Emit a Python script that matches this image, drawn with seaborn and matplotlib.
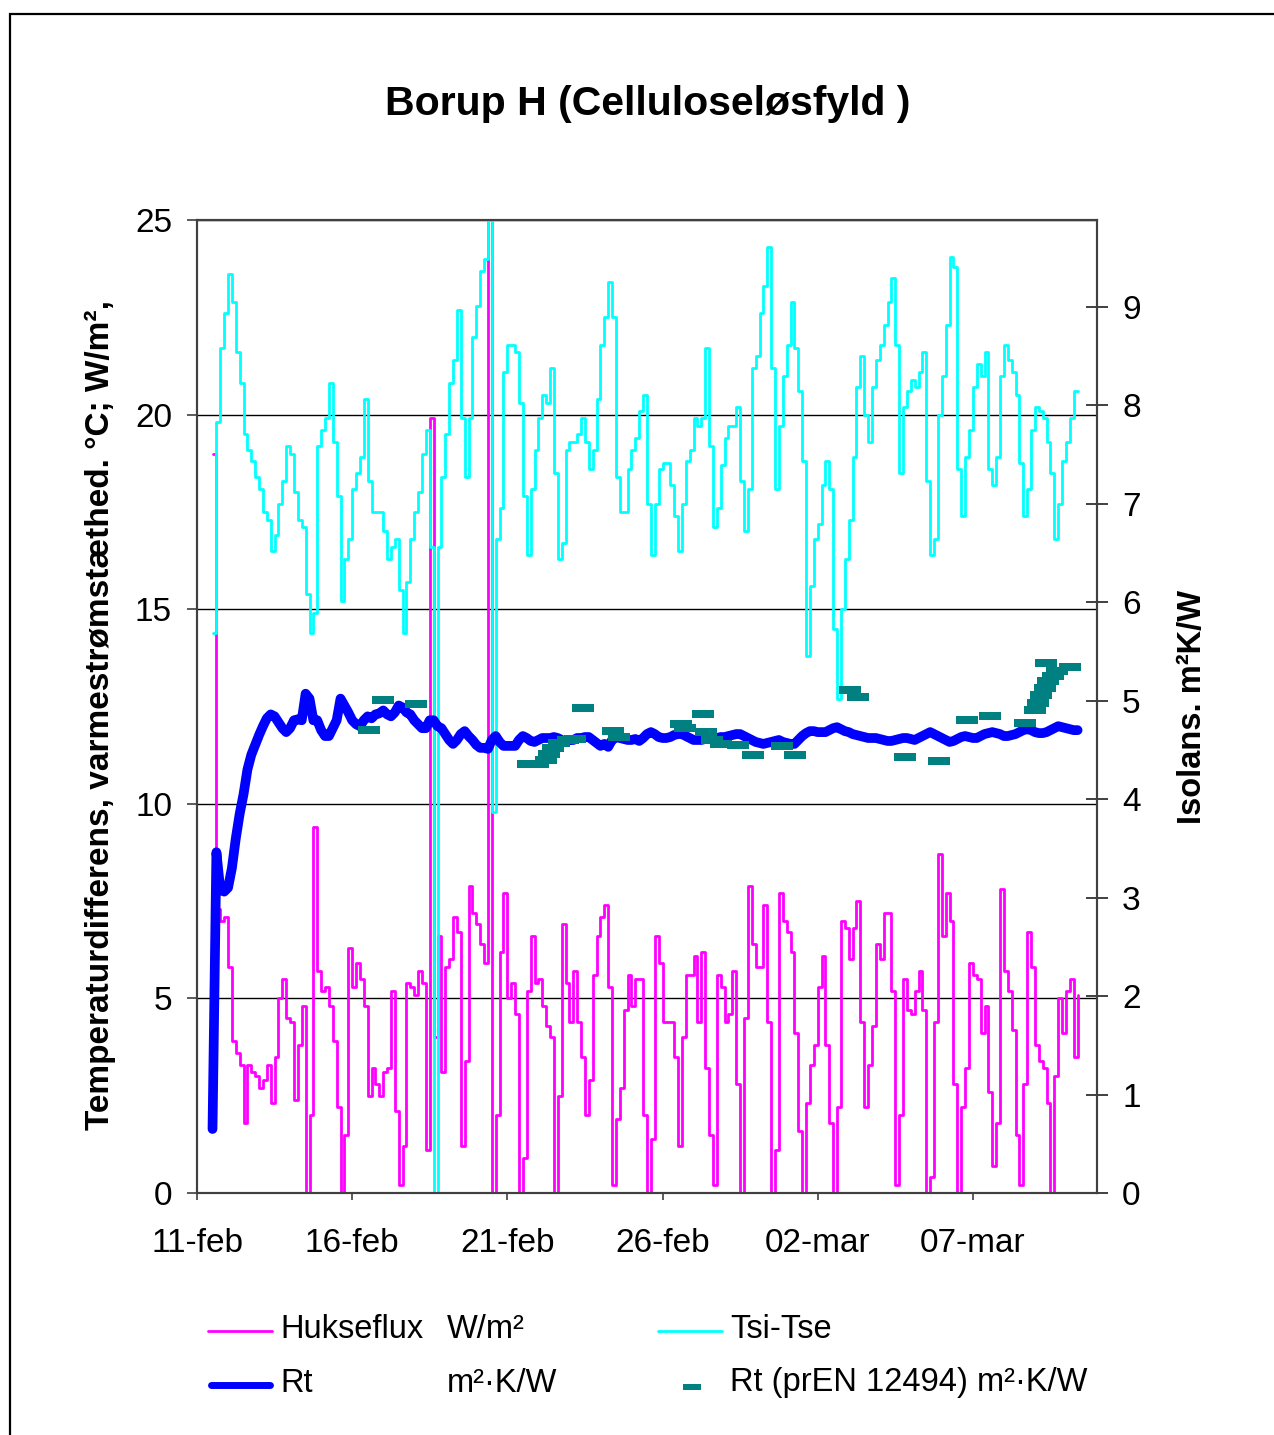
import numpy as np
import pandas as pd
import matplotlib
matplotlib.use("Agg")
import matplotlib.pyplot as plt
import matplotlib.dates as mdates
from matplotlib.lines import Line2D
from matplotlib.patches import Rectangle
from matplotlib.ticker import FixedLocator, FuncFormatter
import seaborn as sns

# ---------------------------------------------------------------------------
# Measurements, 3-hourly from 11 Feb 2004 12:00
# ---------------------------------------------------------------------------
series_start = "2004-02-11 12:00"

# Tsi-Tse, temperature difference (°C)
tsi_tse = [
    14.4, 19.8, 21.7, 22.6, 23.6, 22.9, 21.6, 20.8, 19.5, 19.1,
    18.8, 18.4, 18.1, 17.5, 17.3, 16.5, 16.9, 17.7, 18.3, 19.2,
    19.0, 18.0, 17.3, 17.1, 15.4, 14.4, 14.9, 19.2, 19.6, 19.9,
    20.8, 19.3, 17.9, 15.2, 16.3, 16.8, 18.1, 18.5, 18.9, 20.4,
    18.3, 17.5, 17.5, 17.5, 17.0, 16.3, 16.6, 16.8, 15.5, 14.4,
    15.7, 16.8, 17.5, 18.0, 19.0, 19.6, 16.6, 0.0, 16.6, 18.4,
    19.5, 20.8, 21.4, 22.7, 19.9, 18.4, 19.9, 22.0, 22.8, 23.7,
    24.0, 25.0, 9.8, 16.8, 17.6, 21.1, 21.8, 21.8, 21.6, 20.3,
    17.9, 16.4, 18.1, 19.1, 19.9, 20.5, 20.3, 21.2, 18.5, 16.3,
    16.7, 19.1, 19.3, 19.3, 19.5, 19.9, 19.3, 18.6, 19.1, 20.4,
    21.8, 22.5, 23.4, 22.5, 18.4, 17.5, 17.5, 18.6, 19.1, 19.4,
    20.1, 20.5, 17.7, 16.4, 17.7, 18.6, 18.75, 18.75, 18.2, 17.4,
    16.5, 17.7, 18.8, 19.1, 19.9, 19.7, 19.9, 21.7, 19.2, 17.1,
    17.6, 18.7, 19.4, 19.7, 19.7, 20.2, 18.3, 17.0, 18.1, 21.2,
    21.5, 22.6, 23.3, 24.3, 21.2, 18.1, 19.7, 21.0, 21.8, 22.9,
    21.7, 20.6, 18.8, 13.8, 15.6, 16.8, 17.2, 18.2, 18.8, 18.1,
    14.5, 12.7, 15.0, 16.3, 17.3, 18.9, 20.7, 21.5, 20.0, 19.3,
    20.7, 21.4, 21.8, 22.3, 22.9, 23.5, 21.8, 18.5, 20.2, 20.6,
    20.9, 20.7, 21.1, 21.6, 18.3, 16.4, 16.8, 20.0, 21.0, 22.3,
    24.05, 23.8, 18.6, 17.4, 18.9, 19.6, 20.7, 21.3, 21.0, 21.6,
    18.6, 18.2, 18.9, 21.0, 21.8, 21.4, 21.1, 20.5, 18.75, 17.4,
    18.1, 19.6, 20.2, 20.1, 19.9, 19.3, 18.5, 16.8, 17.7, 18.8,
    19.3, 19.9, 20.6, 20.6,
]

# Hukseflux heat flux density (W/m²)
hukseflux = [
    19.0, 7.3, 7.0, 7.1, 5.8, 3.9, 3.6, 3.3, 1.8, 3.3,
    3.1, 3.0, 2.7, 2.9, 3.3, 2.3, 3.5, 5.0, 5.5, 4.5,
    4.4, 2.4, 3.8, 4.8, 0.0, 2.0, 9.4, 5.7, 5.2, 5.3,
    4.8, 3.9, 2.2, 0.0, 1.5, 6.3, 5.3, 5.9, 5.5, 4.8,
    2.5, 3.2, 2.8, 2.5, 3.1, 3.2, 5.2, 2.1, 0.2, 1.2,
    5.4, 5.3, 5.1, 5.7, 5.4, 1.1, 19.9, 4.0, 6.6, 3.1,
    5.8, 6.0, 7.1, 6.7, 1.2, 3.4, 7.9, 7.2, 6.9, 6.4,
    5.9, 25.0, 0.0, 2.0, 6.2, 7.7, 5.0, 5.4, 4.6, 0.0,
    0.9, 5.2, 6.6, 5.4, 5.5, 4.8, 4.3, 4.0, 0.0, 2.5,
    6.9, 5.4, 4.4, 5.7, 4.4, 3.5, 2.0, 2.9, 5.6, 6.6,
    7.1, 7.4, 5.3, 0.2, 1.9, 2.7, 4.7, 5.6, 4.8, 5.5,
    5.5, 2.0, 0.0, 1.4, 6.6, 5.9, 4.4, 4.4, 4.4, 3.5,
    1.2, 4.0, 5.6, 5.6, 6.1, 4.4, 6.2, 3.2, 1.5, 0.2,
    5.6, 5.3, 4.4, 4.6, 5.7, 2.8, 0.0, 4.5, 7.9, 6.4,
    5.8, 5.8, 7.4, 4.4, 0.0, 1.1, 7.7, 7.0, 6.7, 6.2,
    4.1, 1.6, 0.0, 2.3, 3.3, 3.8, 5.3, 6.1, 3.8, 1.8,
    0.0, 2.2, 7.0, 6.8, 6.0, 6.8, 7.5, 4.4, 2.2, 3.3,
    4.3, 6.4, 6.0, 7.2, 7.2, 5.2, 0.2, 2.0, 5.5, 4.7,
    4.6, 5.2, 5.7, 4.7, 0.0, 0.4, 4.4, 8.7, 6.6, 7.7,
    7.0, 2.8, 0.0, 2.2, 3.2, 5.9, 5.6, 5.5, 4.1, 4.8,
    2.6, 0.7, 1.8, 7.8, 5.7, 5.2, 4.2, 1.5, 0.2, 2.8,
    6.7, 5.8, 3.8, 3.4, 3.2, 2.3, 0.0, 3.0, 5.0, 4.1,
    5.2, 5.5, 3.5, 5.1,
]

# Rt, thermal resistance (m²·K/W)
rt = [
    0.65, 3.46, 3.08, 3.06, 3.10, 3.30, 3.60, 3.85, 4.05, 4.30,
    4.45, 4.55, 4.65, 4.74, 4.82, 4.86, 4.84, 4.78, 4.72, 4.68,
    4.72, 4.80, 4.81, 4.80, 5.07, 5.02, 4.80, 4.80, 4.70, 4.64,
    4.64, 4.72, 4.80, 5.02, 4.95, 4.88, 4.80, 4.76, 4.74, 4.80,
    4.84, 4.82, 4.86, 4.87, 4.90, 4.86, 4.84, 4.88, 4.95, 4.93,
    4.88, 4.86, 4.80, 4.76, 4.72, 4.72, 4.80, 4.80, 4.74, 4.72,
    4.66, 4.60, 4.56, 4.60, 4.66, 4.69, 4.64, 4.60, 4.55, 4.52,
    4.52, 4.51, 4.60, 4.64, 4.58, 4.54, 4.54, 4.54, 4.54, 4.60,
    4.64, 4.62, 4.59, 4.58, 4.60, 4.62, 4.62, 4.62, 4.63, 4.62,
    4.60, 4.58, 4.60, 4.60, 4.62, 4.62, 4.63, 4.63, 4.60, 4.57,
    4.54, 4.56, 4.53, 4.60, 4.63, 4.62, 4.61, 4.60, 4.60, 4.61,
    4.59, 4.62, 4.66, 4.68, 4.66, 4.63, 4.62, 4.62, 4.63, 4.65,
    4.66, 4.66, 4.64, 4.62, 4.60, 4.60, 4.60, 4.61, 4.61, 4.61,
    4.62, 4.63, 4.63, 4.64, 4.65, 4.66, 4.66, 4.64, 4.62, 4.60,
    4.58, 4.57, 4.56, 4.57, 4.58, 4.59, 4.60, 4.58, 4.57, 4.56,
    4.56, 4.60, 4.64, 4.67, 4.69, 4.69, 4.68, 4.68, 4.68, 4.70,
    4.72, 4.73, 4.71, 4.69, 4.68, 4.66, 4.65, 4.64, 4.63, 4.62,
    4.62, 4.62, 4.61, 4.60, 4.59, 4.59, 4.60, 4.61, 4.62, 4.62,
    4.61, 4.60, 4.62, 4.64, 4.66, 4.68, 4.66, 4.64, 4.62, 4.60,
    4.58, 4.59, 4.61, 4.63, 4.64, 4.63, 4.62, 4.62, 4.64, 4.66,
    4.67, 4.68, 4.67, 4.66, 4.64, 4.64, 4.65, 4.66, 4.68, 4.70,
    4.71, 4.70, 4.68, 4.67, 4.67, 4.68, 4.70, 4.72, 4.74, 4.73,
    4.72, 4.71, 4.70, 4.70,
]

# Rt according to prEN 12494: days after 11 Feb 00:00 and value (m²·K/W)
pren_day = [
    5.55, 6.00, 7.06,
    10.65, 11.00, 11.23, 11.35, 11.48, 11.68, 11.94, 12.19,
    12.45, 13.42, 13.61, 15.58, 15.74,
    16.32, 16.39, 16.58, 16.90, 17.42, 17.90,
    18.84, 19.26, 21.03, 21.29, 22.81, 23.90,
    24.81, 25.55, 26.68,
    27.00, 27.10, 27.19, 27.32, 27.42, 27.58, 27.71, 27.35, 28.13,
]
pren_rt = [
    4.70, 5.01, 4.97,
    4.36, 4.36, 4.40, 4.46, 4.52, 4.57, 4.60, 4.61,
    4.92, 4.69, 4.63, 4.76, 4.72,
    4.86, 4.68, 4.60, 4.56, 4.55, 4.45,
    4.54, 4.45, 5.11, 5.04, 4.43, 4.39,
    4.80, 4.84, 4.77,
    4.90, 4.98, 5.06, 5.13, 5.20, 5.25, 5.30, 5.38, 5.34,
]

date_ticks = pd.date_range("2004-02-11", periods=6, freq="5D")
x_start, x_end = pd.Timestamp("2004-02-11"), pd.Timestamp("2004-03-11")

times = pd.date_range(series_start, periods=len(tsi_tse), freq="3h")
df = pd.DataFrame({"time": times, "tsi_tse": tsi_tse,
                   "hukseflux": hukseflux, "rt": rt})
df_pren = pd.DataFrame({
    "time": x_start + pd.to_timedelta(pren_day, unit="D"),
    "rt": pren_rt,
})

# ---------------------------------------------------------------------------
sns.set_style("white")
plt.rcParams["font.family"] = ["Liberation Sans", "DejaVu Sans"]
for key in ("text.color", "axes.labelcolor", "xtick.color", "ytick.color"):
    plt.rcParams[key] = "black"

W, H = 1274, 1435
fig = plt.figure(figsize=(W / 100, H / 100), dpi=100)


def fx(px):
    return px / W


def fy(py):
    return 1 - py / H


ax = fig.add_axes([fx(197), fy(1193), fx(1097) - fx(197), fy(220) - fy(1193)])
ax2 = ax.twinx()

MAGENTA, CYAN, BLUE, TEAL = "#FF00FF", "#00FFFF", "#0000FF", "#008080"

sns.lineplot(data=df, x="time", y="hukseflux", ax=ax, color=MAGENTA,
             linewidth=2.0, drawstyle="steps-post", zorder=3)
sns.lineplot(data=df, x="time", y="tsi_tse", ax=ax, color=CYAN,
             linewidth=2.0, drawstyle="steps-post", zorder=4)

sns.lineplot(data=df, x="time", y="rt", ax=ax2, color=BLUE,
             linewidth=7.0, solid_capstyle="round", solid_joinstyle="round",
             zorder=3)
dash = [(-1.3, -0.5), (1.3, -0.5), (1.3, 0.5), (-1.3, 0.5)]
sns.scatterplot(data=df_pren, x="time", y="rt", ax=ax2, color=TEAL,
                marker=dash, s=235, linewidth=0, zorder=4)

# Axes limits and ticks
ax.set_xlim(x_start, x_end)
ax.set_ylim(0, 25)
ax2.set_ylim(0, 9.88)
ax.set_yticks([0, 5, 10, 15, 20, 25])
ax2.set_yticks(range(0, 10))
ax.xaxis.set_major_locator(FixedLocator(mdates.date2num(date_ticks)))
ax.xaxis.set_major_formatter(
    FuncFormatter(lambda v, _: mdates.num2date(v).strftime("%d-%b").lower()))

for a in (ax, ax2):
    a.set_xlabel("")
    a.set_ylabel("")
    for sp in a.spines.values():
        sp.set_color("#404040")
        sp.set_linewidth(1.5)

ax.grid(axis="y", color="black", linewidth=1.0)
ax.grid(axis="x", visible=False)
ax2.grid(False)
ax.set_axisbelow(True)

ax.tick_params(axis="y", direction="out", length=7, width=1.2, color="#404040",
               labelsize=24, pad=11, left=True)
ax.tick_params(axis="x", direction="out", length=5, width=1.2, color="#404040",
               labelsize=24, pad=20, bottom=True)
ax2.tick_params(axis="y", direction="inout", length=16, width=1.2,
                color="#202020", labelsize=24, pad=10, right=True)

# Title and axis titles
fig.text(fx(648), fy(104), "Borup H (Celluloseløsfyld )", ha="center",
         va="center", fontsize=29.5, fontweight="bold")
fig.text(fx(100), fy(715), "Temperaturdifferens, varmestrømstæthed. °C; W/m²,",
         rotation=90, ha="center", va="center", fontsize=24, fontweight="bold")
fig.text(fx(1192), fy(707), "Isolans. m²K/W", rotation=90, ha="center",
         va="center", fontsize=23.5, fontweight="bold")

# Legend
leg_font = 23.5
fig.add_artist(Line2D([fx(208), fx(272)], [fy(1331), fy(1331)], color=MAGENTA,
                      linewidth=2.0))
fig.text(fx(280), fy(1329), "Hukseflux", va="center", fontsize=leg_font)
fig.text(fx(447), fy(1329), "W/m²", va="center", fontsize=leg_font)
fig.add_artist(Line2D([fx(658), fx(722)], [fy(1331), fy(1331)], color=CYAN,
                      linewidth=2.0))
fig.text(fx(730), fy(1329), "Tsi-Tse", va="center", fontsize=leg_font)

fig.add_artist(Line2D([fx(211), fx(270)], [fy(1385), fy(1385)], color=BLUE,
                      linewidth=5.0, solid_capstyle="round"))
fig.text(fx(280), fy(1383), "Rt", va="center", fontsize=leg_font)
fig.text(fx(447), fy(1383), "m²·K/W", va="center", fontsize=leg_font)
fig.add_artist(Line2D([fx(692)], [fy(1387)], color=TEAL, marker=dash,
                      markersize=13, markeredgewidth=0, linestyle="none"))
fig.text(fx(730), fy(1383), "Rt (prEN 12494) m²·K/W", va="center",
         fontsize=leg_font)

# Outer frame
fig.add_artist(Rectangle((fx(10), -0.1), 1.2, fy(14) + 0.1, transform=fig.transFigure,
                         fill=False, edgecolor="black", linewidth=1.6,
                         clip_on=False))

fig.savefig("out.png", dpi=100)
